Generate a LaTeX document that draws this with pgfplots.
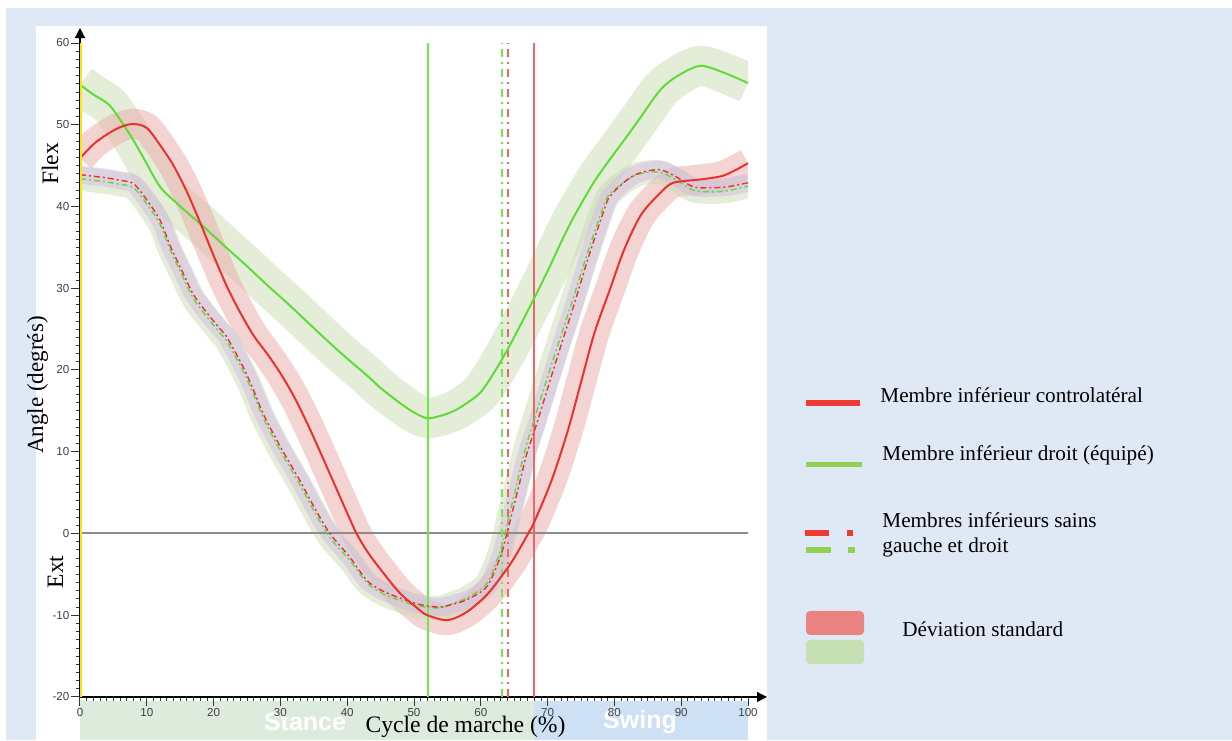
\documentclass[border=0pt]{standalone}
\usepackage{fontspec}
\setmainfont{Liberation Serif}
\newfontfamily\sansf{Liberation Sans}
\usepackage{pgfplots}
\pgfplotsset{compat=1.18}
\usepackage{pgfplotstable}
\usetikzlibrary{arrows.meta}
\definecolor{bgblue}{HTML}{DEE9F5}
\definecolor{stancec}{HTML}{DDEBDC}
\definecolor{swingc}{HTML}{CEE0F4}
\definecolor{curvered}{HTML}{E8322E}
\definecolor{curvegreen}{HTML}{5FDB3A}
\definecolor{vred}{HTML}{F06666}
\definecolor{vgreen}{HTML}{6CEB45}
\definecolor{bandgreen}{HTML}{C9DCB2}
\definecolor{bandred}{HTML}{EBA9A9}
\definecolor{bandlav}{HTML}{D6BAE6}
\definecolor{legred}{HTML}{EE3A33}
\definecolor{leggreen}{HTML}{92D050}
\definecolor{boxred}{HTML}{EB8282}
\definecolor{boxgreen}{HTML}{C6E0B4}
\definecolor{zerogray}{HTML}{8C8C8C}
\definecolor{yel}{HTML}{FFE600}

\pgfplotstableread{
x y
0 45.9
2 47.6
4 48.8
6 49.7
8 50.1
10 49.6
12 47.5
14 45.0
16 41.8
18 38.0
20 34.0
22 30.2
24 27.0
26 24.2
28 22.0
30 19.6
32 16.8
34 13.5
36 9.9
38 6.2
40 2.5
41.4 0
43 -2.2
45 -4.4
47.9 -7.3
50.9 -9.4
52 -10.0
55 -10.6
57.9 -9.6
60.9 -7.5
63.4 -4.9
65 -3.0
67.1 0
68 1.4
70.6 6.5
73 12.5
75 18.5
77 24.5
79.3 29.8
81.5 34.8
84 39.0
86.8 41.6
88.8 42.9
92.8 43.3
96 43.7
98 44.4
100 45.3
}\contro

\pgfplotstableread{
x y
0 54.9
2 53.7
4.4 52.4
6.5 50.0
8 48.1
9.4 46.1
12 42.4
14.5 40.4
16 39.3
18 37.9
20 36.4
22 34.9
25 32.7
28 30.4
31 28.2
34 25.9
37 23.6
40 21.4
43 19.3
45 17.8
48 15.9
50 14.8
52 14.1
54 14.4
56 15.0
58 16.0
60 17.3
62 19.7
64 22.5
66 25.6
68 28.8
70 32.1
72 35.6
73.9 38.7
76.8 42.8
79 45.4
81.8 48.5
84 51.0
86.8 54.2
89.3 55.9
92.8 57.2
96.3 56.4
100 55.1
}\equipe

\pgfplotstableread{
x y
0 43.9
2 43.7
4 43.5
6 43.2
8 42.8
10 40.8
12 38.3
13.5 35.2
15.4 31.9
17 29.2
19 27.0
21 25.0
22 24.0
24.4 20.4
26 17.5
27.4 14.7
30 10.6
32.9 6.5
35 3.3
37.4 0
40.4 -2.9
42.9 -5.7
45 -6.9
47.9 -7.9
50.9 -8.7
53.9 -9.0
56 -8.6
57.9 -8.1
60.9 -6.5
62.9 -2.9
63.9 0
65.9 6.5
66.9 9.8
68.4 13.5
70.4 18.8
72 23.0
74 28.1
76 33.5
78.3 39.2
79.3 41.2
81.8 43.2
83.8 44.1
86.8 44.5
89.3 43.6
91.8 42.4
94.3 42.3
96.8 42.4
100 42.9
}\sainsR

\pgfplotstableread{
x y
0 43.4
2 43.2
4 43.0
6 42.7
8 42.3
10 40.3
12 37.8
13.5 34.7
15.4 31.4
17 28.7
19 26.5
21 24.5
22 23.5
24.4 19.9
26 17.0
27.4 14.2
30 10.1
32.9 6.0
35 2.8
37.4 -0.5
40.4 -3.3
42.9 -6.0
45 -7.2
47.9 -8.2
50.9 -8.9
53.9 -9.1
56 -8.5
57.9 -7.9
60.9 -6.1
62.9 -2.2
63.9 1.0
65.9 7.8
66.9 11.0
68.4 15.0
70.4 20.2
72 24.2
74 29.2
76 34.4
78.3 39.9
79.3 41.5
81.8 43.2
83.8 44.0
86.8 44.2
89.3 43.2
91.8 42.0
94.3 41.8
96.8 41.9
100 42.5
}\sainsG

\begin{document}
\begin{tikzpicture}
\fill[white] (0,0) rectangle (616pt,370pt);
\fill[bgblue] (3pt,0) rectangle (616pt,366pt);
\fill[white] (18pt,0) rectangle (383.5pt,357pt);
\fill[stancec] (40pt,0) rectangle (267pt,19.5pt);
\fill[swingc] (267pt,0) rectangle (374pt,19.5pt);
\node[white, font=\fontsize{12.5}{15}\selectfont\sansf\bfseries] at (152.5pt,9pt) {Stance};
\node[white, font=\fontsize{12.5}{15}\selectfont\sansf\bfseries] at (320pt,9pt) {Swing};

\begin{axis}[
  at={(40pt,21.5pt)}, anchor=south west,
  scale only axis, width=334pt, height=327pt,
  xmin=0, xmax=100, ymin=-20, ymax=60,
  axis lines=left,
  axis line style={line width=0.6pt, black, -{Triangle[length=5pt,width=5pt]}},
  x axis line style={shorten >=-9.5pt},
  y axis line style={shorten >=-7.5pt},
  xtick={0,10,...,100},
  xticklabels={0,10,20,30,40,50,60,70,80,90,100},
  ytick={-20,-10,...,60},
  yticklabels={-20,-10,0,10,20,30,40,50,60},
  minor x tick num=9, minor y tick num=9,
  tick align=outside,
  major tick length=4.5pt, minor tick length=1.8pt,
  tick style={black!80, line width=0.5pt},
  minor tick style={line width=0.4pt},
  tick label style={font=\fontsize{5.8}{7}\selectfont\sansf, text=black!75},
  yticklabel style={inner sep=0.6pt},
  xticklabel style={inner sep=1pt},
]
% SD bands
\addplot[bandgreen, opacity=0.5, line width=20pt, line join=round, smooth] table {\equipe};
\addplot[bandred, opacity=0.5, line width=15pt, line join=round, smooth] table {\contro};
\addplot[bandgreen, opacity=0.5, line width=12pt, line join=round, smooth] table {\sainsG};
\addplot[bandlav, opacity=0.5, line width=9pt, line join=round, smooth] table {\sainsR};
% zero line
\addplot[zerogray, line width=1pt] coordinates {(0,0) (100,0)};
% vertical event lines
\addplot[vgreen, line width=1pt] coordinates {(52.1,-20) (52.1,60)};
\addplot[vgreen, line width=0.9pt, dash pattern=on 4pt off 2.5pt on 1pt off 2.5pt] coordinates {(63.2,-20) (63.2,60)};
\addplot[vred, line width=0.9pt, dash pattern=on 4pt off 2.5pt on 1pt off 2.5pt] coordinates {(64.1,-20) (64.1,60)};
\addplot[vred, line width=1pt] coordinates {(68,-20) (68,60)};
% curves
\addplot[curvegreen, line width=0.7pt, dash pattern=on 3pt off 1.5pt on 1pt off 1.5pt, smooth] table {\sainsG};
\addplot[curvered, line width=0.7pt, dash pattern=on 3pt off 1.5pt on 1pt off 1.5pt, smooth] table {\sainsR};
\addplot[curvegreen, line width=1pt, smooth] table {\equipe};
\addplot[curvered, line width=1pt, smooth] table {\contro};
% yellow y-axis highlight
\addplot[yel, line width=0.8pt] coordinates {(0.15,-20) (0.15,60)};
\end{axis}

% axis labels
\node[anchor=base, inner sep=0, font=\fontsize{11.8}{14}\selectfont] at (232.75pt,3.5pt) {Cycle de marche (\%)};
\node[rotate=90, anchor=base, inner sep=0, font=\fontsize{11.5}{14}\selectfont] at (21.5pt,177.5pt) {Angle (degrés)};
\node[rotate=90, anchor=base, inner sep=0, font=\fontsize{11.8}{14}\selectfont] at (29pt,288pt) {Flex};
\node[rotate=90, anchor=base, inner sep=0, font=\fontsize{11.8}{14}\selectfont] at (31.5pt,84pt) {Ext};

% legend
\draw[legred, line width=2.8pt] (403pt,168.5pt) -- (430pt,168.5pt);
\node[anchor=base west, inner sep=0, font=\fontsize{10.6}{13}\selectfont] at (440pt,168.5pt) {Membre inférieur controlatéral};
\draw[leggreen, line width=2.8pt] (403pt,137.75pt) -- (431pt,137.75pt);
\node[anchor=base west, inner sep=0, font=\fontsize{10.6}{13}\selectfont] at (441pt,139.5pt) {Membre inférieur droit (équipé)};
\draw[legred, line width=2.6pt] (402.5pt,103.5pt) -- (414.5pt,103.5pt);
\draw[legred, line width=2.6pt] (423.5pt,103.5pt) -- (426.5pt,103.5pt);
\draw[leggreen, line width=2.6pt] (403pt,95pt) -- (415.5pt,95pt);
\draw[leggreen, line width=2.6pt] (424pt,95pt) -- (427.5pt,95pt);
\node[anchor=base west, inner sep=0, font=\fontsize{10.6}{13}\selectfont] at (441pt,106pt) {Membres inférieurs sains};
\node[anchor=base west, inner sep=0, font=\fontsize{10.6}{13}\selectfont] at (441pt,93.5pt) {gauche et droit};
\fill[boxred, rounded corners=2pt] (403pt,52.5pt) rectangle (432pt,64.5pt);
\fill[boxgreen, rounded corners=2pt] (403pt,38pt) rectangle (432pt,50pt);
\node[anchor=base west, inner sep=0, font=\fontsize{10.6}{13}\selectfont] at (451pt,51.5pt) {Déviation standard};
\end{tikzpicture}
\end{document}
